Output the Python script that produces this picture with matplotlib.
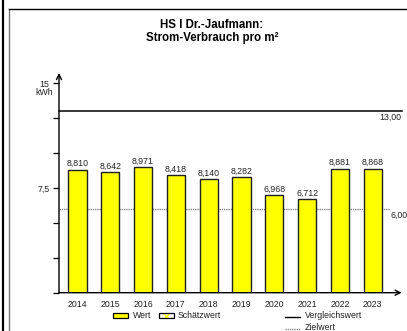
import matplotlib
matplotlib.use("Agg")
import matplotlib.pyplot as plt
from matplotlib.patches import Rectangle
from matplotlib.lines import Line2D

years = ["2014", "2015", "2016", "2017", "2018", "2019", "2020", "2021", "2022", "2023"]
values = [8.810, 8.642, 8.971, 8.418, 8.140, 8.282, 6.968, 6.712, 8.881, 8.868]
vergleichswert = 13.0
zielwert = 6.0
title_lines = ["HS I Dr.-Jaufmann:", "Strom-Verbrauch pro m²"]
legend_labels = ["Wert", "Schätzwert", "Vergleichswert", "Zielwert"]

def de(v, n=3):
    return f"{v:.{n}f}".replace(".", ",")

plt.rcParams['font.family'] = ['Liberation Sans', 'DejaVu Sans']
plt.rcParams['hatch.linewidth'] = 1.0

W, H = 407, 331
fig = plt.figure(figsize=(W / 100, H / 100), dpi=100)

def fx(px):
    return px / W

def fy(py):
    return 1 - py / H

# axes placement in pixels
ax_l, ax_r, ax_t, ax_b = 59, 400, 73, 292.7
ax = fig.add_axes([fx(ax_l), fy(ax_b), fx(ax_r) - fx(ax_l), fy(ax_t) - fy(ax_b)])

step = 32.8
x0 = 77.5
xlim = ((ax_l - x0) / step, (ax_r - x0) / step)
ppu = (ax_b - 83.3) / 15.0
ylim = (0, (ax_b - ax_t) / ppu)
ax.set_xlim(*xlim)
ax.set_ylim(*ylim)
for s in ax.spines.values():
    s.set_visible(False)

xs = list(range(len(years)))
ax.bar(xs, values, width=0.56, color="#FFFF00", edgecolor="#202020", linewidth=1.0, zorder=3)
for x, v in zip(xs, values):
    ax.text(x, v + 0.12, de(v), ha="center", va="bottom", fontsize=6.3, color="#222222", zorder=4)

# reference lines
xr_end = (401.7 - x0) / step
ax.plot([xlim[0], xr_end], [vergleichswert, vergleichswert], color="black", lw=1.1, clip_on=False, zorder=2)
ax.text(xr_end, vergleichswert - 0.08, de(vergleichswert, 2), ha="right", va="top", fontsize=6.3, color="#222222")
zl_end = (390 - x0) / step
ax.plot([xlim[0], zl_end], [zielwert, zielwert], color="#888888", lw=1.0, ls=(0, (1, 0.6)), clip_on=False, zorder=2)
ax.text((391 - x0) / step, zielwert - 0.1, de(zielwert, 2), ha="left", va="top", fontsize=6.3, color="#222222")

# axes with arrows
ax.annotate("", xy=(xlim[0], ylim[1]), xytext=(xlim[0], 0), xycoords="data",
            arrowprops=dict(arrowstyle="->", lw=1.0, color="black", shrinkA=0, shrinkB=0,
                            mutation_scale=9), annotation_clip=False)
ax.annotate("", xy=(xlim[1] + 0.05, 0), xytext=(xlim[0], 0), xycoords="data",
            arrowprops=dict(arrowstyle="->", lw=1.0, color="black", shrinkA=0, shrinkB=0,
                            mutation_scale=9), annotation_clip=False)

# ticks
ax.set_yticks([0, 2.5, 5, 7.5, 10, 12.5, 15])
ax.set_yticklabels(["", "", "", "7,5", "", "", "15"], fontsize=6.3, color="#222222")
ax.tick_params(axis="y", direction="out", length=4, width=0.9, pad=3)
ax.set_xticks(xs)
ax.set_xticklabels(years, fontsize=6.3, color="#222222")
ax.tick_params(axis="x", length=0, pad=5)
fig.text(fx(53), fy(92.5), "kWh", ha="right", va="center", fontsize=6.3, color="#222222")

# title
fig.text(fx(212), fy(25), title_lines[0], ha="center", va="center", fontsize=8.3, fontweight="bold")
fig.text(fx(212), fy(38), title_lines[1], ha="center", va="center", fontsize=8.3, fontweight="bold")

# frame
fig.add_artist(Line2D([fx(2.5), fx(2.5)], [0, 1], color="black", lw=1.6))
fig.add_artist(Line2D([fx(8.5), fx(8.5)], [0, fy(9)], color="#777777", lw=1.0))
fig.add_artist(Line2D([fx(8.5), 1], [fy(9), fy(9)], color="black", lw=1.0))

# legend
fig.add_artist(Rectangle((fx(113), fy(318)), fx(15), fy(313) - fy(318), facecolor="#FFFF00",
                         edgecolor="black", lw=0.9))
fig.text(fx(133), fy(316), legend_labels[0], ha="left", va="center", fontsize=6.3, color="#222222")
fig.add_artist(Rectangle((fx(158.5), fy(318)), fx(15), fy(313) - fy(318), facecolor="white",
                         edgecolor="#FFFF00", lw=0, hatch="xx"))
fig.add_artist(Rectangle((fx(158.5), fy(318)), fx(15), fy(313) - fy(318), facecolor="none",
                         edgecolor="black", lw=0.9))
fig.text(fx(178), fy(316), legend_labels[1], ha="left", va="center", fontsize=6.3, color="#222222")
fig.add_artist(Line2D([fx(285), fx(300)], [fy(316.5), fy(316.5)], color="black", lw=1.0))
fig.text(fx(305), fy(316), legend_labels[2], ha="left", va="center", fontsize=6.3, color="#222222")
fig.add_artist(Line2D([fx(285), fx(300)], [fy(328.5), fy(328.5)], color="#888888", lw=1.0, ls=(0, (1, 0.6))))
fig.text(fx(305), fy(328), legend_labels[3], ha="left", va="center", fontsize=6.3, color="#222222")

fig.savefig("out.png", dpi=100)
